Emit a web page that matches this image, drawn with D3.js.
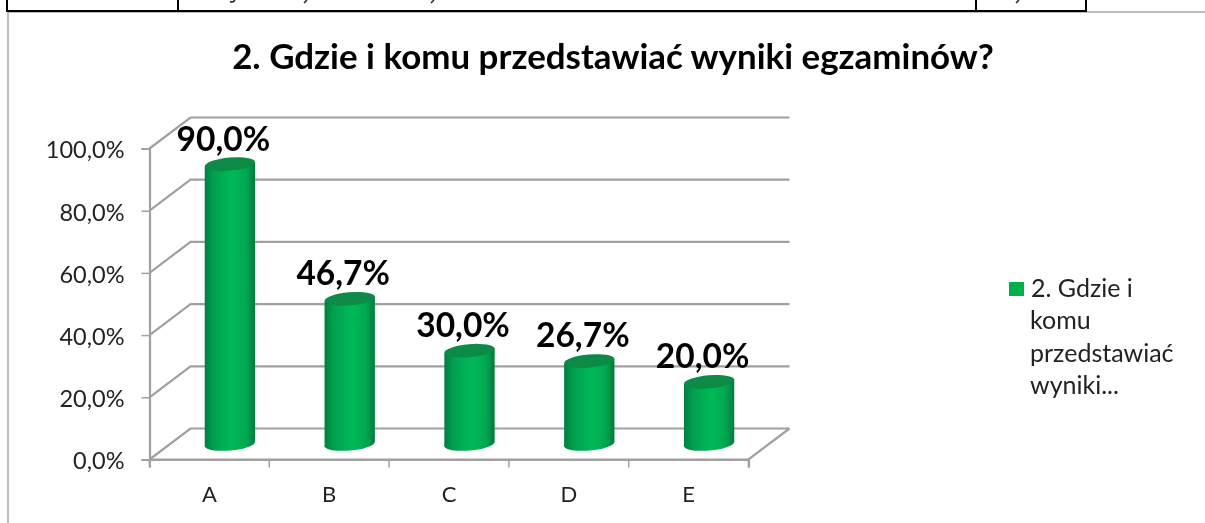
<!DOCTYPE html>
<html>
<head>
<meta charset="utf-8">
<script src="https://cdnjs.cloudflare.com/ajax/libs/d3/7.8.5/d3.min.js"></script>
<style>
  html, body { margin: 0; padding: 0; background: #fff; }
  svg { display: block; }
  text { font-family: Lato, "Open Sans", sans-serif; }
</style>
</head>
<body>
<svg width="1205" height="523"></svg>
<script>
const titleText = "2. Gdzie i komu przedstawiać wyniki egzaminów?";
const categories = ["A", "B", "C", "D", "E"];
const values = [90.0, 46.7, 30.0, 26.7, 20.0];
const ticks = [0, 20, 40, 60, 80, 100];
const legendLines = ["2. Gdzie i", "komu", "przedstawiać", "wyniki..."];

const fmt = v => v.toFixed(1).replace(".", ",") + "%";

const svg = d3.select("svg");
const x = d3.scaleBand().domain(categories).range([149.5, 748.5]);
const y = d3.scaleLinear().domain([0, 100]).range([459.5, 148.5]);

// depth of the fake 3d box
const dx = 41, dy = -31;
const lineCol = "#a0a0a0";

const defs = svg.append("defs");
const grad = defs.append("linearGradient").attr("id", "cyl");
[[0, "#067f40"], [0.18, "#06a04f"], [0.55, "#00b957"], [0.82, "#05a851"], [1, "#067a3c"]]
  .forEach(s => grad.append("stop").attr("offset", s[0]).attr("stop-color", s[1]));
defs.append("filter").attr("id", "soft")
  .append("feGaussianBlur").attr("stdDeviation", 0.45);

// page frame and the table row cut off above the chart
const page = svg.append("g").attr("filter", "url(#soft)");
page.append("path").attr("d", "M8,523V12H1205").attr("fill", "none").attr("stroke", "#a6a6a6").attr("stroke-width", 1.5);
page.append("path").attr("d", "M7,0V11H1086V0M178,0V11M976,0V11")
  .attr("fill", "none").attr("stroke", "#000").attr("stroke-width", 2);
// bottoms of the letters that stick into the picture from the row above
page.append("path").attr("d", "M230,1.5Q233,3 235,0M304,3L307,0M431,3L434,0M1016,3L1019,0")
  .attr("fill", "none").attr("stroke", "#222").attr("stroke-width", 1.5);

const g = svg.append("g").attr("filter", "url(#soft)");

// walls
const grid = g.append("g").attr("fill", "none").attr("stroke", lineCol).attr("stroke-width", 2.2);
grid.selectAll("path").data(ticks).enter().append("path")
  .attr("d", d => "M149.5," + y(d) + "L" + (149.5 + dx) + "," + (y(d) + dy) + "H" + (748.5 + dx));
grid.append("path")
  .attr("d", "M149.5," + y(0) + "L748.5," + y(0) + "L" + (748.5 + dx) + "," + (y(0) + dy));

// axes
const yAxis = g.append("g").attr("transform", "translate(149.5,0)")
  .call(d3.axisLeft(y).tickValues(ticks).tickFormat(fmt).tickSize(8).tickPadding(17));
yAxis.selectAll("text").attr("dy", "0.4em");
const xAxis = g.append("g").attr("transform", "translate(0,459.5)")
  .call(d3.axisBottom(x).tickSize(8).tickPadding(19));
xAxis.selectAll(".tick line").remove();
const edges = categories.map(c => x(c)).concat([x.range()[1]]);
xAxis.selectAll("line.edge").data(edges).enter().append("line")
  .attr("class", "edge").attr("x1", d => d).attr("x2", d => d).attr("y1", 0).attr("y2", 8);
[yAxis, xAxis].forEach(a => {
  a.select(".domain").attr("stroke", lineCol).attr("stroke-width", 2.2);
  a.selectAll("line").attr("stroke", lineCol).attr("stroke-width", 1.5);
  a.selectAll("text").attr("fill", "#222").style("font-size", "23.5px");
});
xAxis.selectAll("text").style("font-size", "22px");

// cylinders
const rx = x.bandwidth() * 0.21, ry = 6.5, tilt = -5;
const cx = d => x(d) + x.bandwidth() / 2 + dx / 2;
const bars = g.selectAll(".bar").data(values).enter().append("g").attr("class", "bar");
const ell = (sel, px, py) => sel.attr("rx", rx).attr("ry", ry)
  .attr("transform", (d, i) => "translate(" + px(d, i) + "," + py(d, i) + ") rotate(" + tilt + ")");
const name = (d, i) => categories[i];
const tipY = Math.sin(tilt * Math.PI / 180) * rx;
bars.append("ellipse").call(ell, (d, i) => cx(name(d, i)), () => y(0) + dy / 2).attr("fill", "url(#cyl)");
bars.append("path")
  .attr("d", (d, i) => {
    const c = cx(name(d, i)), t = y(d) + dy / 2, b = y(0) + dy / 2;
    return "M" + (c - rx) + "," + (t - tipY) + "L" + (c + rx) + "," + (t + tipY)
      + "L" + (c + rx) + "," + (b + tipY) + "L" + (c - rx) + "," + (b - tipY) + "Z";
  })
  .attr("fill", "url(#cyl)");
bars.append("ellipse").call(ell, (d, i) => cx(name(d, i)), d => y(d) + dy / 2).attr("fill", "#078a44");

// data labels
g.selectAll(".lab").data(values).enter().append("text")
  .attr("class", "lab")
  .attr("x", (d, i) => cx(name(d, i)) - 6.5)
  .attr("y", d => y(d) + dy / 2 - 13.5)
  .attr("text-anchor", "middle")
  .style("font-size", "33.5px").style("font-weight", 700).attr("fill", "#000")
  .text(fmt);

// title
g.append("text").attr("x", 613).attr("y", 69).attr("text-anchor", "middle")
  .style("font-size", "34.9px").style("font-weight", 700).attr("fill", "#000").text(titleText);

// legend
g.append("rect").attr("x", 1009).attr("y", 282).attr("width", 15).attr("height", 14).attr("fill", "#00b050");
g.selectAll(".leg").data(legendLines).enter().append("text")
  .attr("class", "leg").attr("x", (d, i) => i ? 1030 : 1031).attr("y", (d, i) => 297 + i * 32.3)
  .style("font-size", "25px").attr("fill", "#222").text(d => d);
</script>
</body>
</html>
